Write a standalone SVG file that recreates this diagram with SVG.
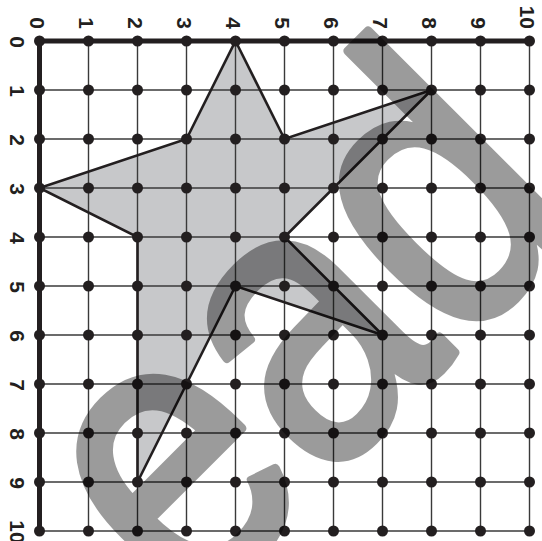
<svg xmlns="http://www.w3.org/2000/svg" width="542" height="541" viewBox="0 0 542 541">
<style>
.lbl{font-family:"Liberation Sans",Arial,sans-serif;font-weight:bold;font-size:21px;fill:#231f20}
.top{text-anchor:end}
.left{text-anchor:middle}
.grid line{stroke:#3a3a3a;stroke-width:1.4}
.axis{stroke:#231f20;stroke-width:5;stroke-linecap:square}
.dot{fill:#231f20}
.wm{font-family:"Liberation Sans",Arial,sans-serif;font-size:400px;fill:#000;stroke:#000;stroke-width:9;stroke-linejoin:round}
</style>
<defs>
<circle id="d" r="5.5" class="dot"/>
</defs>
<rect width="542" height="541" fill="#fff"/>
<g id="star-fill">
<polygon points="235.5,41 284.5,139 431.5,90 284.5,237 382.5,335 235.5,286 137.5,482 137.5,237 39.5,188 186.5,139" fill="#c7c8ca"/>
</g>
<g id="grid" class="grid">
<line x1="39.5" y1="41" x2="529.5" y2="41"/>
<line x1="39.5" y1="90" x2="529.5" y2="90"/>
<line x1="39.5" y1="139" x2="529.5" y2="139"/>
<line x1="39.5" y1="188" x2="529.5" y2="188"/>
<line x1="39.5" y1="237" x2="529.5" y2="237"/>
<line x1="39.5" y1="286" x2="529.5" y2="286"/>
<line x1="39.5" y1="335" x2="529.5" y2="335"/>
<line x1="39.5" y1="384" x2="529.5" y2="384"/>
<line x1="39.5" y1="433" x2="529.5" y2="433"/>
<line x1="39.5" y1="482" x2="529.5" y2="482"/>
<line x1="39.5" y1="531" x2="529.5" y2="531"/>
<line x1="39.5" y1="41" x2="39.5" y2="531"/>
<line x1="88.5" y1="41" x2="88.5" y2="531"/>
<line x1="137.5" y1="41" x2="137.5" y2="531"/>
<line x1="186.5" y1="41" x2="186.5" y2="531"/>
<line x1="235.5" y1="41" x2="235.5" y2="531"/>
<line x1="284.5" y1="41" x2="284.5" y2="531"/>
<line x1="333.5" y1="41" x2="333.5" y2="531"/>
<line x1="382.5" y1="41" x2="382.5" y2="531"/>
<line x1="431.5" y1="41" x2="431.5" y2="531"/>
<line x1="480.5" y1="41" x2="480.5" y2="531"/>
<line x1="529.5" y1="41" x2="529.5" y2="531"/>
</g>
<g id="connectors">
<polygon points="235.5,41 284.5,139 431.5,90 284.5,237 382.5,335 235.5,286 137.5,482 137.5,237 39.5,188 186.5,139" fill="none" stroke="#231f20" stroke-width="2.6" stroke-linejoin="miter"/>
<line class="axis" x1="39.5" y1="41" x2="529.5" y2="41"/>
<line class="axis" x1="39.5" y1="41" x2="39.5" y2="531"/>
</g>
<g id="dots">
<g transform="translate(39.5,0)"><use href="#d" y="41"/><use href="#d" y="90"/><use href="#d" y="139"/><use href="#d" y="188"/><use href="#d" y="237"/><use href="#d" y="286"/><use href="#d" y="335"/><use href="#d" y="384"/><use href="#d" y="433"/><use href="#d" y="482"/><use href="#d" y="531"/></g>
<g transform="translate(88.5,0)"><use href="#d" y="41"/><use href="#d" y="90"/><use href="#d" y="139"/><use href="#d" y="188"/><use href="#d" y="237"/><use href="#d" y="286"/><use href="#d" y="335"/><use href="#d" y="384"/><use href="#d" y="433"/><use href="#d" y="482"/><use href="#d" y="531"/></g>
<g transform="translate(137.5,0)"><use href="#d" y="41"/><use href="#d" y="90"/><use href="#d" y="139"/><use href="#d" y="188"/><use href="#d" y="237"/><use href="#d" y="286"/><use href="#d" y="335"/><use href="#d" y="384"/><use href="#d" y="433"/><use href="#d" y="482"/><use href="#d" y="531"/></g>
<g transform="translate(186.5,0)"><use href="#d" y="41"/><use href="#d" y="90"/><use href="#d" y="139"/><use href="#d" y="188"/><use href="#d" y="237"/><use href="#d" y="286"/><use href="#d" y="335"/><use href="#d" y="384"/><use href="#d" y="433"/><use href="#d" y="482"/><use href="#d" y="531"/></g>
<g transform="translate(235.5,0)"><use href="#d" y="41"/><use href="#d" y="90"/><use href="#d" y="139"/><use href="#d" y="188"/><use href="#d" y="237"/><use href="#d" y="286"/><use href="#d" y="335"/><use href="#d" y="384"/><use href="#d" y="433"/><use href="#d" y="482"/><use href="#d" y="531"/></g>
<g transform="translate(284.5,0)"><use href="#d" y="41"/><use href="#d" y="90"/><use href="#d" y="139"/><use href="#d" y="188"/><use href="#d" y="237"/><use href="#d" y="286"/><use href="#d" y="335"/><use href="#d" y="384"/><use href="#d" y="433"/><use href="#d" y="482"/><use href="#d" y="531"/></g>
<g transform="translate(333.5,0)"><use href="#d" y="41"/><use href="#d" y="90"/><use href="#d" y="139"/><use href="#d" y="188"/><use href="#d" y="237"/><use href="#d" y="286"/><use href="#d" y="335"/><use href="#d" y="384"/><use href="#d" y="433"/><use href="#d" y="482"/><use href="#d" y="531"/></g>
<g transform="translate(382.5,0)"><use href="#d" y="41"/><use href="#d" y="90"/><use href="#d" y="139"/><use href="#d" y="188"/><use href="#d" y="237"/><use href="#d" y="286"/><use href="#d" y="335"/><use href="#d" y="384"/><use href="#d" y="433"/><use href="#d" y="482"/><use href="#d" y="531"/></g>
<g transform="translate(431.5,0)"><use href="#d" y="41"/><use href="#d" y="90"/><use href="#d" y="139"/><use href="#d" y="188"/><use href="#d" y="237"/><use href="#d" y="286"/><use href="#d" y="335"/><use href="#d" y="384"/><use href="#d" y="433"/><use href="#d" y="482"/><use href="#d" y="531"/></g>
<g transform="translate(480.5,0)"><use href="#d" y="41"/><use href="#d" y="90"/><use href="#d" y="139"/><use href="#d" y="188"/><use href="#d" y="237"/><use href="#d" y="286"/><use href="#d" y="335"/><use href="#d" y="384"/><use href="#d" y="433"/><use href="#d" y="482"/><use href="#d" y="531"/></g>
<g transform="translate(529.5,0)"><use href="#d" y="41"/><use href="#d" y="90"/><use href="#d" y="139"/><use href="#d" y="188"/><use href="#d" y="237"/><use href="#d" y="286"/><use href="#d" y="335"/><use href="#d" y="384"/><use href="#d" y="433"/><use href="#d" y="482"/><use href="#d" y="531"/></g>
</g>
<g id="x-labels" class="lbl top">
<text transform="translate(30,29) rotate(90)">0</text>
<text transform="translate(79,29) rotate(90)">1</text>
<text transform="translate(128,29) rotate(90)">2</text>
<text transform="translate(177,29) rotate(90)">3</text>
<text transform="translate(226,29) rotate(90)">4</text>
<text transform="translate(275,29) rotate(90)">5</text>
<text transform="translate(324,29) rotate(90)">6</text>
<text transform="translate(373,29) rotate(90)">7</text>
<text transform="translate(422,29) rotate(90)">8</text>
<text transform="translate(471,29) rotate(90)">9</text>
<text transform="translate(520,29) rotate(90)">10</text>
</g>
<g id="y-labels" class="lbl left">
<text transform="translate(10,42) rotate(90)">0</text>
<text transform="translate(10,91) rotate(90)">1</text>
<text transform="translate(10,140) rotate(90)">2</text>
<text transform="translate(10,189) rotate(90)">3</text>
<text transform="translate(10,238) rotate(90)">4</text>
<text transform="translate(10,287) rotate(90)">5</text>
<text transform="translate(10,336) rotate(90)">6</text>
<text transform="translate(10,385) rotate(90)">7</text>
<text transform="translate(10,434) rotate(90)">8</text>
<text transform="translate(10,483) rotate(90)">9</text>
<text transform="translate(10,532) rotate(90)">10</text>
</g>
<g id="watermark" opacity="0.39">
<text class="wm" transform="rotate(-45) scale(0.85,1)" x="-359" y="572">ead</text>
</g>
</svg>
